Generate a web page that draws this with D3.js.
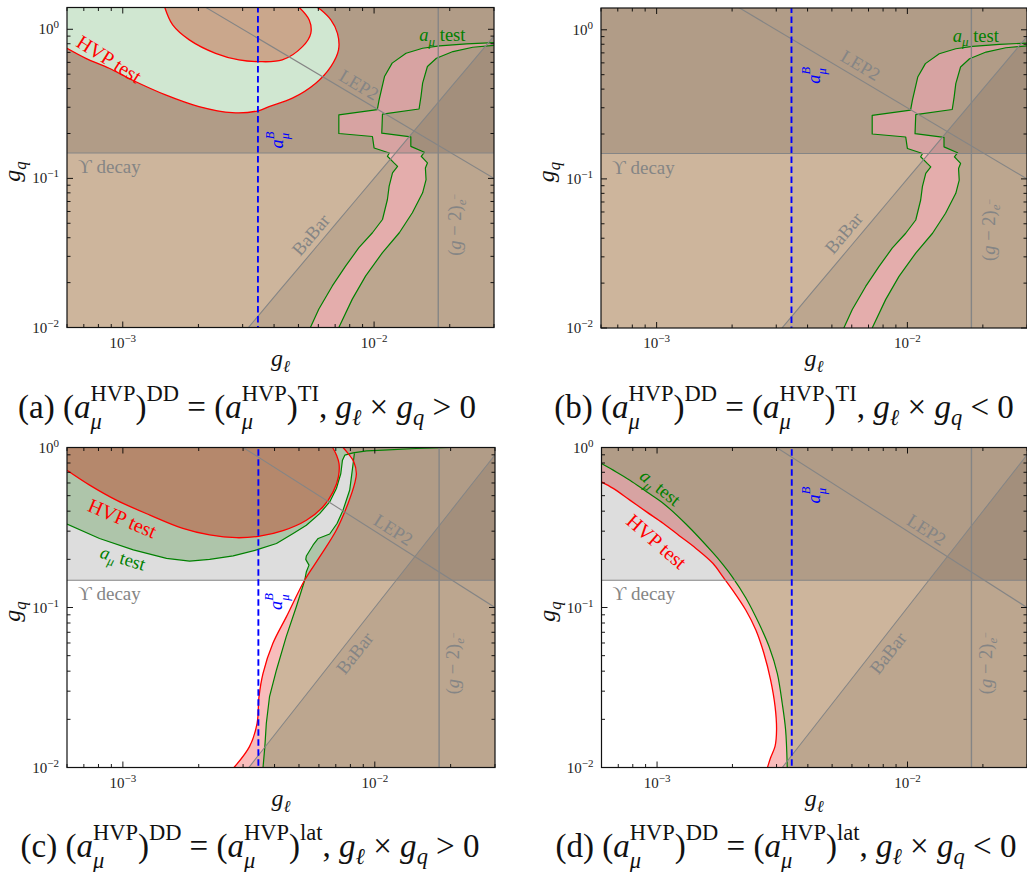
<!DOCTYPE html>
<html><head><meta charset="utf-8">
<script src="https://cdn.jsdelivr.net/npm/d3@7"></script>
<style>body{margin:0;background:#fff} text{white-space:pre}</style>
</head><body><svg id="c" width="1027" height="872"></svg>
<script>
// ---------------- data ----------------
const xDomain = [6e-4, 3e-2];
const yDomainTI = [1e-2, 1.4];
const yDomainLat = [1e-2, 1];
const xMajorTicks = [1e-3, 1e-2];
const xTickExp = ['−3', '−2'];
const yMajorTicks = [1e-2, 1e-1, 1];
const yTickExp = ['−2', '−1', '0'];
const upsilonGq = 0.148;     // Upsilon decay bound
const g2eGl = 0.018;         // (g-2)_e bound
const amuBGl = 3.45e-3;      // a_mu^B line
const lep2Product = 3.0e-3;  // LEP2: g_l * g_q
const babarCoef = 1000;      // BaBar: g_q = coef * g_l^2

// panels (a),(b): a_mu test allowed band (pink)
const amuTI_left = [[5.58e-3,0.01],[6.03e-3,0.0133],[6.82e-3,0.019],[7.7e-3,0.0258],[8.7e-3,0.0343],[9.85e-3,0.0432],[0.0108,0.053],[0.0113,0.0722],[0.01148,0.0887],[0.01184,0.109],[0.0124,0.1205],[0.0120,0.127],[0.0113,0.1407],[0.0115,0.148],[0.0100,0.16],[9.85e-3,0.191],[7.24e-3,0.2],[7.24e-3,0.267],[0.0103,0.289],[0.01047,0.336],[0.011,0.482],[0.0118,0.593],[0.0134,0.691],[0.0156,0.746],[0.0182,0.774],[0.0233,0.798],[0.0300,0.815]];
const amuTI_right = [[7.24e-3,0.01],[8.19e-3,0.0155],[9.26e-3,0.0222],[0.0108,0.0318],[0.0126,0.0432],[0.0142,0.0588],[0.0156,0.08],[0.0161,0.098],[0.016,0.1175],[0.0163,0.127],[0.01585,0.1336],[0.0154,0.1407],[0.01585,0.1496],[0.014,0.164],[0.014,0.19],[0.01073,0.201],[0.0108,0.27],[0.0151,0.292],[0.01537,0.355],[0.0156,0.435],[0.0163,0.563],[0.0177,0.64],[0.0206,0.709],[0.0247,0.758],[0.0300,0.78]];
// panel (a): HVP test contours
const hvpTI_inner = [[1.47e-3,1.4],[1.58e-3,1.07],[1.84e-3,0.849],[2.34e-3,0.69],[2.9e-3,0.623],[3.46e-3,0.607],[4.31e-3,0.623],[5.19e-3,0.765],[5.6e-3,0.94],[5.52e-3,1.155],[5.04e-3,1.4]];
const hvpTI_outer = [[6e-4,0.746],[7.13e-4,0.639],[8.83e-4,0.548],[1.09e-3,0.457],[1.48e-3,0.363],[2.01e-3,0.303],[2.73e-3,0.276],[3.46e-3,0.284],[3.82e-3,0.303],[4.73e-3,0.345],[5.86e-3,0.435],[6.73e-3,0.562],[7.22e-3,0.727],[7.15e-3,0.94],[6.73e-3,1.155],[6.14e-3,1.35],[5.95e-3,1.4]];
// panel (c)
const hvpLat_inner = [[6e-4,0.721],[7.38e-4,0.582],[9.42e-4,0.469],[1.28e-3,0.378],[1.73e-3,0.312],[2.21e-3,0.284],[2.82e-3,0.273],[3.49e-3,0.279],[4.32e-3,0.302],[5.35e-3,0.351],[6.23e-3,0.426],[6.83e-3,0.528],[7.17e-3,0.656],[7.21e-3,0.794],[7.05e-3,0.895],[6.8e-3,1.0]];
const hvpLat_right = [[2.76e-3,0.01],[3.18e-3,0.0135],[3.41e-3,0.0189],[3.47e-3,0.0277],[3.6e-3,0.0388],[3.94e-3,0.0597],[4.46e-3,0.0877],[5.27e-3,0.1486],[6.04e-3,0.207],[7.04e-3,0.305],[7.83e-3,0.447],[8.32e-3,0.596],[8.45e-3,0.688],[8.26e-3,0.813],[7.83e-3,0.918],[7.48e-3,1.0]];
const amuLat_lower = [[6e-4,0.332],[8.08e-4,0.27],[1.1e-3,0.229],[1.49e-3,0.203],[1.84e-3,0.195],[2.21e-3,0.2],[2.74e-3,0.21],[3.39e-3,0.229],[4.07e-3,0.251],[4.74e-3,0.29],[5.35e-3,0.327],[6.04e-3,0.386],[6.62e-3,0.457],[7.04e-3,0.554],[7.33e-3,0.688],[7.44e-3,0.833],[7.6e-3,0.896],[8.2e-3,0.925],[9.27e-3,0.953],[0.0108,0.962],[0.0146,0.986],[0.0199,1.0]];
const amuLat_upper = [[3.6e-3,0.01],[3.66e-3,0.0135],[3.71e-3,0.0189],[3.82e-3,0.0277],[4.07e-3,0.0407],[4.45e-3,0.0658],[4.88e-3,0.101],[5.27e-3,0.148],[5.35e-3,0.1675],[5.48e-3,0.184],[5.32e-3,0.2],[5.35e-3,0.21],[5.69e-3,0.246],[5.96e-3,0.27],[6.62e-3,0.288],[7.08e-3,0.335],[7.48e-3,0.406],[7.95e-3,0.542],[8.14e-3,0.722],[8.25e-3,0.853],[8.3e-3,0.918]];
// panel (d)
const hvpLatNeg = [[6e-4,0.61],[6.68e-4,0.555],[7.79e-4,0.469],[9.08e-4,0.396],[1.06e-3,0.335],[1.23e-3,0.28],[1.43e-3,0.234],[1.67e-3,0.189],[1.83e-3,0.156],[2.0e-3,0.129],[2.26e-3,0.0965],[2.48e-3,0.0724],[2.67e-3,0.0518],[2.84e-3,0.0353],[2.96e-3,0.024],[3.0e-3,0.0172],[2.96e-3,0.0136],[2.84e-3,0.0115],[2.76e-3,0.01]];
const amuLatNeg = [[6e-4,0.795],[6.68e-4,0.722],[7.79e-4,0.625],[9.08e-4,0.529],[1.06e-3,0.447],[1.31e-3,0.33],[1.67e-3,0.22],[1.83e-3,0.186],[2.0e-3,0.155],[2.26e-3,0.115],[2.55e-3,0.0796],[2.8e-3,0.057],[3.02e-3,0.0388],[3.16e-3,0.0252],[3.26e-3,0.0172],[3.31e-3,0.01]];

// ---------------- drawing ----------------
const FONT = "'Liberation Serif','DejaVu Serif',serif";
const svg = d3.select('#c');
const C = {tan:'#cdb59c', pink:'#f8bcbb', green:'#c9e4c5', lgreen:'#d0e7d1', ellA:'#caa78c', ellC:'#b5886c',
  red:'#ff0000', grn:'#008000', gray:'#858585', blue:'#0000ff'};
const catm = d3.curveCatmullRom.alpha(0.5);

function mathLine(g, items, F){
  let cx = 0;
  function put(p, x){
    const t = g.append('text').attr('x', x).attr('y', -(p.up||0)*F)
      .attr('font-size', (p.s||1)*F).attr('font-style', p.it ? 'italic' : 'normal')
      .attr('font-family', FONT).text(p.t);
    return t.node().getComputedTextLength();
  }
  items.forEach(p => {
    if (p.stack) { const w1 = put(p.stack[0], cx), w2 = put(p.stack[1], cx); cx += Math.max(w1, w2); }
    else cx += put(p, cx);
  });
  return cx;
}
function mathLabel(parent, items, F, px, py, rot, fill, vshift){
  const g = parent.append('g').attr('transform', `translate(${px},${py}) rotate(${rot})`).attr('fill', fill);
  const inner = g.append('g');
  const w = mathLine(inner, items, F);
  inner.attr('transform', `translate(${-w/2},${vshift===undefined ? F*0.33 : vshift})`);
  return w;
}

const panels = [
  {key:'a', left:67, top:7.5, w:427, h:320, yDom:yDomainTI, kind:'TI', sign:'>', sup:'TI', capX:247, capY:418,
   hvpLab:[8.82e-4,0.63,32], amuLab:[0.0187,0.916,0], lep2Lab:[8.7e-3,0.423], babarLab:[5.6e-3,0.0418], g2eLab:[0.021,0.0488], amuBLab:[4.11e-3,0.181]},
  {key:'b', left:601, top:8, w:426, h:320, yDom:yDomainTI, kind:'TIneg', sign:'<', sup:'TI', capX:784, capY:418,
   amuLab:[0.01876,0.916,0], lep2Lab:[6.5e-3,0.577], babarLab:[5.58e-3,0.0432], g2eLab:[0.0212,0.0455], amuBLab:[4.23e-3,0.495]},
  {key:'c', left:67, top:447.5, w:428, h:320, yDom:yDomainLat, kind:'Lat', sign:'>', sup:'lat', capX:250, capY:857,
   hvpLab:[9.94e-4,0.36,23], amuLab:[1.0e-3,0.203,17], lep2Lab:[0.01183,0.305], babarLab:[8.34e-3,0.0518], g2eLab:[0.0205,0.0448], amuBLab:[4.06e-3,0.109]},
  {key:'d', left:601.5, top:447.5, w:425.5, h:320, yDom:yDomainLat, kind:'LatNeg', sign:'<', sup:'lat', capX:786, capY:857,
   hvpLab:[9.94e-4,0.258,41], amuLab:[1.03e-3,0.56,39], lep2Lab:[0.0119,0.305], babarLab:[8.37e-3,0.0518], g2eLab:[0.0206,0.0449], amuBLab:[4.23e-3,0.504]}
];

function captionItems(letter, sup, sign){
  const stackHVP = {stack:[{t:'HVP', s:.68, up:.52}, {t:'μ', s:.68, up:-.32, it:1}]};
  return [{t:`(${letter}) (`}, {t:'a', it:1}, stackHVP, {t:')'}, {t:'DD', s:.68, up:.52},
    {t:' = ('}, {t:'a', it:1}, stackHVP, {t:')'}, {t:sup, s:.68, up:.52}, {t:', '},
    {t:'g', it:1}, {t:'ℓ', s:.68, up:-.2, it:1}, {t:' × '}, {t:'g', it:1}, {t:'q', s:.68, up:-.2, it:1}, {t:` ${sign} 0`}];
}
const tmp = svg.append('g');
const wRef = mathLine(tmp, captionItems('a','TI','>'), 20);
tmp.remove();
const capF = 20 * 458 / wRef;

panels.forEach(P => {
  const x = d3.scaleLog().domain(xDomain).range([P.left, P.left + P.w]);
  const y = d3.scaleLog().domain(P.yDom).range([P.top + P.h, P.top]);
  const XL = 3e-4, XR = 0.06, YB = 5e-3, YT = 3;
  const defs = svg.append('defs');
  const clipId = 'clip' + P.key;
  defs.append('clipPath').attr('id', clipId).append('rect')
    .attr('x', P.left).attr('y', P.top).attr('width', P.w).attr('height', P.h);
  const body = svg.append('g').attr('clip-path', `url(#${clipId})`);

  const lineFn = (curve) => d3.line().x(q => x(q[0])).y(q => y(q[1])).curve(curve || d3.curveLinear);
  function polyPath(segs){
    let d = '';
    segs.forEach((s, i) => { let p = lineFn(s.curve)(s.pts); if (i > 0) p = 'L' + p.slice(1); d += p; });
    return d + 'Z';
  }
  const fillRect = (col) => body.append('rect').attr('x', P.left).attr('y', P.top).attr('width', P.w).attr('height', P.h).attr('fill', col);
  const stroke = (pts, col, curve, wdt) => body.append('path').attr('d', lineFn(curve)(pts)).attr('fill', 'none')
    .attr('stroke', col).attr('stroke-width', wdt || 1.2).attr('stroke-linejoin', 'round');

  function overlays(){
    body.append('rect').attr('x', P.left).attr('y', P.top).attr('width', P.w).attr('height', y(upsilonGq) - P.top)
      .attr('fill', '#000').attr('fill-opacity', 0.135);
    const gl0 = Math.sqrt(YB / babarCoef), gl1 = Math.sqrt(YT / babarCoef);
    body.append('path').attr('d', polyPath([{pts:[[gl0, YB], [gl1, YT], [XR, YT], [XR, YB]]}]))
      .attr('fill', '#000').attr('fill-opacity', 0.08);
  }

  if (P.kind === 'TI' || P.kind === 'TIneg') {
    fillRect(C.tan);
    body.append('path').attr('d', polyPath([{pts:amuTI_left}, {pts:[[XR,0.815],[XR,0.78]]}, {pts:amuTI_right.slice().reverse()}])).attr('fill', C.pink);
    overlays();
    if (P.kind === 'TI') {
      body.append('path').attr('d', polyPath([{pts:hvpTI_outer, curve:catm}, {pts:[[5.95e-3,YT],[XL,YT],[XL,0.746]]}])).attr('fill', C.lgreen);
      body.append('path').attr('d', polyPath([{pts:hvpTI_inner, curve:catm}, {pts:[[5.04e-3,YT],[1.47e-3,YT]]}])).attr('fill', C.ellA);
      stroke(hvpTI_outer, C.red, catm, 1.3);
      stroke(hvpTI_inner, C.red, catm, 1.3);
    }
    stroke(amuTI_left, C.grn);
    stroke(amuTI_right, C.grn);
  } else if (P.kind === 'Lat') {
    fillRect(C.green);
    const nLow = amuLat_lower.findIndex(p => p[0] === 7.6e-3);
    const bPath = polyPath([{pts:amuLat_lower.slice(0, nLow + 1)}, {pts:amuLat_upper.slice().reverse()}, {pts:[[3.6e-3,YB],[XL,YB],[XL,0.332]]}]);
    body.append('path').attr('d', bPath).attr('fill', '#fff');
    const rPath = polyPath([{pts:hvpLat_right, curve:catm}, {pts:[[7.48e-3,YT],[XR,YT],[XR,YB],[2.76e-3,YB]]}]);
    body.append('path').attr('d', rPath).attr('fill', C.tan);
    defs.append('clipPath').attr('id', 'band' + P.key).append('path').attr('d', bPath);
    body.append('g').attr('clip-path', `url(#band${P.key})`).append('path').attr('d', rPath).attr('fill', C.pink);
    overlays();
    body.append('path').attr('d', polyPath([{pts:hvpLat_inner, curve:catm}, {pts:[[6.8e-3,YT],[XL,YT],[XL,0.721]]}])).attr('fill', C.ellC);
    stroke(amuLat_lower, C.grn);
    stroke(amuLat_upper, C.grn);
    stroke(hvpLat_inner, C.red, catm, 1.3);
    stroke(hvpLat_right, C.red, catm, 1.3);
  } else {
    fillRect('#fff');
    body.append('path').attr('d', polyPath([{pts:hvpLatNeg, curve:catm}, {pts:[[2.76e-3,YB],[XR,YB],[XR,YT],[XL,YT],[XL,0.61]]}])).attr('fill', C.pink);
    body.append('path').attr('d', polyPath([{pts:amuLatNeg, curve:catm}, {pts:[[3.31e-3,YB],[XR,YB],[XR,YT],[XL,YT],[XL,0.795]]}])).attr('fill', C.tan);
    overlays();
    stroke(amuLatNeg, C.grn, catm);
    stroke(hvpLatNeg, C.red, catm, 1.3);
  }

  // constraint lines
  const gl = d3.line().x(q => x(q[0])).y(q => y(q[1]));
  body.append('path').attr('d', gl([[XL, upsilonGq], [XR, upsilonGq]])).attr('stroke', C.gray).attr('stroke-width', 1.1);
  body.append('path').attr('d', gl([[g2eGl, YB], [g2eGl, YT]])).attr('stroke', C.gray).attr('stroke-width', 1.4);
  body.append('path').attr('d', gl([[XL, lep2Product / XL], [XR, lep2Product / XR]])).attr('stroke', C.gray).attr('stroke-width', 1.1);
  const bab = d3.range(0, 21).map(i => { const v = Math.pow(10, -2.6 + i * 0.075); return [v, babarCoef * v * v]; });
  body.append('path').attr('d', gl(bab)).attr('stroke', C.gray).attr('stroke-width', 1.1).attr('fill', 'none');
  body.append('path').attr('d', gl([[amuBGl, YB], [amuBGl, YT]])).attr('stroke', C.blue).attr('stroke-width', 1.9).attr('stroke-dasharray', '6.5,3.5');

  // labels inside
  const lab = svg.append('g');
  const angLEP = Math.atan2(y(lep2Product / 0.02) - y(lep2Product / 0.002), x(0.02) - x(0.002)) * 180 / Math.PI;
  const angBab = Math.atan2(y(babarCoef * 1e-4) - y(babarCoef * 1e-6), x(1e-2) - x(1e-3)) * 180 / Math.PI;
  const gF = 18.5;
  mathLabel(lab, [{t:'LEP2'}], gF, x(P.lep2Lab[0]), y(P.lep2Lab[1]), angLEP, C.gray);
  mathLabel(lab, [{t:'BaBar'}], gF, x(P.babarLab[0]), y(P.babarLab[1]), angBab, C.gray);
  mathLabel(lab, [{t:'('}, {t:'g', it:1}, {t:' − 2)'}, {t:'e', s:.7, up:-.25, it:1}, {t:'−', s:.55, up:.15}], gF, x(P.g2eLab[0]), y(P.g2eLab[1]), -90, C.gray);
  const ups = lab.append('g').attr('transform', `translate(${P.left + 11},${y(upsilonGq) + 20})`).attr('fill', C.gray);
  mathLine(ups, [{t:'ϒ decay'}], 19);
  mathLabel(lab, [{t:'a', it:1}, {stack:[{t:'B', s:.68, up:.52, it:1}, {t:'μ', s:.68, up:-.34, it:1}]}], gF, x(P.amuBLab[0]), y(P.amuBLab[1]), -90, C.blue);
  if (P.hvpLab) mathLabel(lab, [{t:'HVP test'}], 20, x(P.hvpLab[0]), y(P.hvpLab[1]), P.hvpLab[2], C.red);
  mathLabel(lab, [{t:'a', it:1}, {t:'μ', s:.7, up:-.25, it:1}, {t:' test'}], 18.5, x(P.amuLab[0]), y(P.amuLab[1]), P.amuLab[2], C.grn);

  // ticks (inward, all sides)
  const ax = svg.append('g').attr('stroke', '#000').attr('stroke-width', 0.9);
  const xMinor = [], yMinor = [];
  for (let e = -4; e <= -1; e++) for (let m = 1; m <= 9; m++) {
    const v = m * Math.pow(10, e);
    if (v >= xDomain[0] * 0.999 && v <= xDomain[1] * 1.001) xMinor.push([v, m === 1]);
  }
  for (let e = -2; e <= 0; e++) for (let m = 1; m <= 9; m++) {
    const v = m * Math.pow(10, e);
    if (v >= P.yDom[0] * 0.999 && v <= P.yDom[1] * 1.001) yMinor.push([v, m === 1]);
  }
  const bot = P.top + P.h, rgt = P.left + P.w;
  xMinor.forEach(([v, maj]) => {
    const L = maj ? 6 : 3.5, px = x(v);
    ax.append('line').attr('x1', px).attr('x2', px).attr('y1', bot).attr('y2', bot - L);
    ax.append('line').attr('x1', px).attr('x2', px).attr('y1', P.top).attr('y2', P.top + L);
  });
  yMinor.forEach(([v, maj]) => {
    const L = maj ? 6 : 3.5, py = y(v);
    ax.append('line').attr('y1', py).attr('y2', py).attr('x1', P.left).attr('x2', P.left + L);
    ax.append('line').attr('y1', py).attr('y2', py).attr('x1', rgt).attr('x2', rgt - L);
  });
  svg.append('rect').attr('x', P.left).attr('y', P.top).attr('width', P.w).attr('height', P.h)
    .attr('fill', 'none').attr('stroke', '#111').attr('stroke-width', 1.2);

  const tl = svg.append('g').attr('font-family', FONT).attr('fill', '#222');
  xMajorTicks.forEach((v, i) => {
    const t = tl.append('text').attr('x', x(v)).attr('y', bot + 20).attr('text-anchor', 'middle').attr('font-size', 15).text('10');
    t.append('tspan').attr('dy', -6).attr('font-size', 11).text(xTickExp[i]);
  });
  yMajorTicks.forEach((v, i) => {
    const t = tl.append('text').attr('x', P.left - 8).attr('y', y(v) + 5).attr('text-anchor', 'end').attr('font-size', 15).text('10');
    t.append('tspan').attr('dy', -6).attr('font-size', 11).text(yTickExp[i]);
  });

  // axis titles
  mathLabel(svg, [{t:'g', it:1}, {t:'q', s:.7, up:-.25, it:1}], 24, P.left - 52, P.top + P.h / 2 + 4, -90, '#111', 5);
  mathLabel(svg, [{t:'g', it:1}, {t:'ℓ', s:.7, up:-.25, it:1}], 24, P.left + P.w / 2, bot + 38, 0, '#111', 0);

  // caption
  mathLabel(svg, captionItems(P.key, P.sup, P.sign), capF, P.capX, P.capY, 0, '#111', 0);
});
</script></body></html>
